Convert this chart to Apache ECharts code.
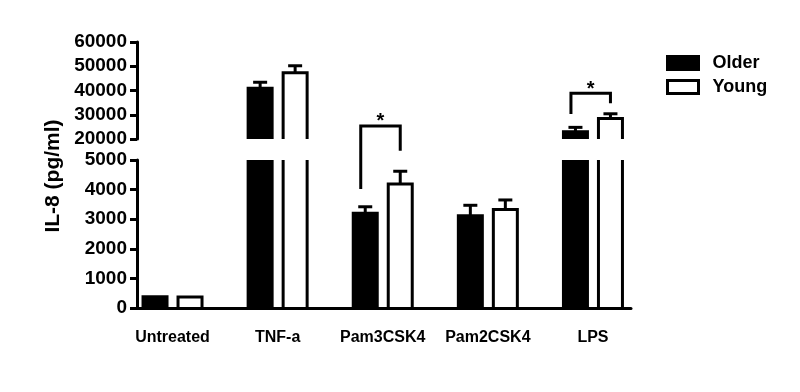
<!DOCTYPE html>
<html><head><meta charset="utf-8">
<script src="https://cdn.jsdelivr.net/npm/echarts@6/dist/echarts.min.js"></script>
<style>html,body{margin:0;padding:0;background:#fff}#c{width:800px;height:392px}</style>
</head><body><div id="c"></div>
<script>
const categories = ['Untreated', 'TNF-a', 'Pam3CSK4', 'Pam2CSK4', 'LPS'];
const olderMean = [380, 40900, 3200, 3120, 23000];
const olderErr  = [0, 2500, 220, 350, 1800];
const youngMean = [370, 47300, 4190, 3330, 28500];
const youngErr  = [0, 2900, 430, 320, 1900];
const upperRange = [20000, 60000, 10000];
const lowerRange = [0, 5000, 1000];
// significance brackets: [category index, top, left leg bottom, right leg bottom]
const bracketsLower = [[2, 6150, 4020, 5310]];
const bracketsUpper = [[4, 38840, 30310, 34720]];

const FONT = '"Liberation Sans", Arial, sans-serif';
const OFFSET = { Older: -17.5, Young: 17.5 };
const HALF = 12;

const chart = echarts.init(document.getElementById('c'));

function barRender(kind) {
  return function (params, api) {
    const i = api.value(0), v = api.value(1);
    const cs = params.coordSys;
    const top = api.coord([i, v]);
    const base = api.coord([i, 0]);
    const x = top[0] + OFFSET[kind];
    const gTop = cs.y, gBot = cs.y + cs.height;
    const y1 = Math.max(top[1], gTop), y0 = Math.min(base[1], gBot);
    if (y1 >= y0) return null;
    const open = top[1] < gTop;
    if (kind === 'Older') {
      const yt = open ? y1 : y1 - 1.5;
      return { type: 'rect', shape: { x: x - HALF - 1.5, y: yt, width: 2 * HALF + 3, height: y0 - yt }, style: { fill: '#000' } };
    }
    if (open) {
      return { type: 'group', children: [
        { type: 'line', shape: { x1: x - HALF, y1: y1, x2: x - HALF, y2: y0 }, style: { stroke: '#000', lineWidth: 3 } },
        { type: 'line', shape: { x1: x + HALF, y1: y1, x2: x + HALF, y2: y0 }, style: { stroke: '#000', lineWidth: 3 } }
      ] };
    }
    return { type: 'polyline', shape: { points: [[x - HALF, y0], [x - HALF, y1], [x + HALF, y1], [x + HALF, y0]] },
      style: { stroke: '#000', lineWidth: 3, fill: null } };
  };
}

function errRender(kind) {
  return function (params, api) {
    const i = api.value(0), v = api.value(1), e = api.value(2);
    if (!(e > 0)) return null;
    const cs = params.coordSys;
    const p = api.coord([i, v]), q = api.coord([i, v + e]);
    if (p[1] > cs.y + cs.height + 0.5 || q[1] < cs.y - 0.5) return null;
    const x = p[0] + OFFSET[kind];
    return { type: 'group', children: [
      { type: 'line', shape: { x1: x, y1: p[1], x2: x, y2: q[1] }, style: { stroke: '#000', lineWidth: 3 } },
      { type: 'line', shape: { x1: x - 7, y1: q[1], x2: x + 7, y2: q[1] }, style: { stroke: '#000', lineWidth: 3 } }
    ] };
  };
}

function bracketRender(params, api) {
  const i = api.value(0);
  const pt = api.coord([i, api.value(1)]);
  const pl = api.coord([i, api.value(2)]);
  const pr = api.coord([i, api.value(3)]);
  const lx = pt[0] - 22, rx = pt[0] + 17.5;
  return { type: 'group', children: [
    { type: 'polyline', shape: { points: [[lx, pl[1]], [lx, pt[1]], [rx, pt[1]], [rx, pr[1]]] },
      style: { stroke: '#000', lineWidth: 3, fill: null } },
    { type: 'text', x: (lx + rx) / 2, y: pt[1] - 4,
      style: { text: '*', font: 'bold 20px ' + FONT, fill: '#000', align: 'center', verticalAlign: 'middle' } }
  ] };
}

function rows(mean, err) { return categories.map((c, i) => [i, mean[i], err[i]]); }

const xMin = -0.338, xMax = 4.362;
function xAxis(gridIndex, visible) {
  return {
    type: 'value', gridIndex: gridIndex, min: xMin, max: xMax,
    show: visible,
    axisLine: { show: visible, onZero: false, lineStyle: { color: '#000', width: 3 } },
    axisTick: { show: false },
    splitLine: { show: false },
    axisLabel: {
      show: visible, customValues: [0, 1, 2, 3, 4], margin: 22,
      formatter: v => categories[Math.round(v)] || '',
      color: '#000', fontFamily: FONT, fontWeight: 'bold', fontSize: 16
    }
  };
}
function yAxis(gridIndex, r) {
  return {
    type: 'value', gridIndex: gridIndex, min: r[0], max: r[1], interval: r[2],
    axisLine: { show: true, onZero: false, lineStyle: { color: '#000', width: 3 } },
    axisTick: { show: true, length: 7, lineStyle: { color: '#000', width: 3 } },
    splitLine: { show: false },
    axisLabel: { margin: 10, color: '#000', fontFamily: FONT, fontWeight: 'bold', fontSize: 19,
      formatter: v => String(v) }
  };
}

const series = [];
[[0, bracketsUpper], [1, bracketsLower]].forEach(([g, br]) => {
  series.push({ name: 'Older', type: 'custom', xAxisIndex: g, yAxisIndex: g, renderItem: barRender('Older'),
    data: rows(olderMean, olderErr), encode: { x: 0, y: 1 }, itemStyle: { color: '#000' }, silent: true });
  series.push({ name: 'Young', type: 'custom', xAxisIndex: g, yAxisIndex: g, renderItem: barRender('Young'),
    data: rows(youngMean, youngErr), encode: { x: 0, y: 1 }, itemStyle: { color: '#fff' }, silent: true });
  series.push({ type: 'custom', xAxisIndex: g, yAxisIndex: g, renderItem: errRender('Older'),
    data: rows(olderMean, olderErr), encode: { x: 0, y: 1 }, silent: true });
  series.push({ type: 'custom', xAxisIndex: g, yAxisIndex: g, renderItem: errRender('Young'),
    data: rows(youngMean, youngErr), encode: { x: 0, y: 1 }, silent: true });
  series.push({ type: 'custom', xAxisIndex: g, yAxisIndex: g, renderItem: bracketRender,
    data: br, encode: { x: 0, y: 1 }, silent: true, z: 5 });
});

chart.setOption({
  animation: false,
  backgroundColor: '#fff',
  grid: [
    { left: 137, width: 494, top: 42, height: 97 },
    { left: 137, width: 494, top: 160, height: 148 }
  ],
  xAxis: [xAxis(0, false), xAxis(1, true)],
  yAxis: [yAxis(0, upperRange), yAxis(1, lowerRange)],
  legend: {
    orient: 'vertical', left: 661, top: 49, itemWidth: 31, itemHeight: 13, itemGap: 6,
    icon: 'rect',
    data: [
      { name: 'Older', itemStyle: { color: '#000', borderColor: '#000', borderWidth: 3 } },
      { name: 'Young', itemStyle: { color: '#fff', borderColor: '#000', borderWidth: 3 } }
    ],
    textStyle: { color: '#000', fontFamily: FONT, fontWeight: 'bold', fontSize: 18, padding: [0, 0, 0, 9] }
  },
  graphic: [{
    type: 'text', x: 53, y: 176, rotation: Math.PI / 2,
    style: { text: 'IL-8 (pg/ml)', font: 'bold 21px ' + FONT, fill: '#000', align: 'center', verticalAlign: 'middle' }
  }],
  series: series
});
</script></body></html>
